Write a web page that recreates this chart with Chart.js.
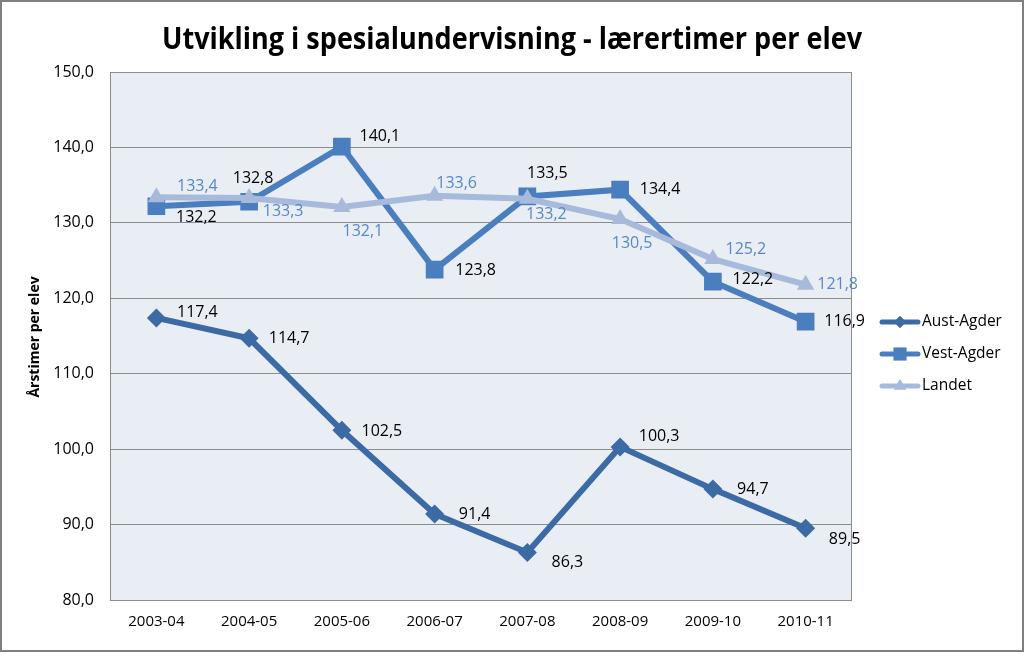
<!DOCTYPE html>
<html><head><meta charset="utf-8">
<script src="https://cdn.jsdelivr.net/npm/chart.js@4.4.0/dist/chart.umd.min.js"></script>
<style>html,body{margin:0;padding:0;background:#fff}#wrap{width:1024px;height:652px}</style>
</head><body><div id="wrap"><canvas id="c" width="1024" height="652"></canvas></div>
<script>
const categories = ['2003-04','2004-05','2005-06','2006-07','2007-08','2008-09','2009-10','2010-11'];
const austAgder = [117.4,114.7,102.5,91.4,86.3,100.3,94.7,89.5];
const vestAgder = [132.2,132.8,140.1,123.8,133.5,134.4,122.2,116.9];
const landet = [133.4,133.3,132.1,133.6,133.2,130.5,125.2,121.8];
const seriesNames = ['Aust-Agder','Vest-Agder','Landet'];
const yMin = 80, yMax = 150, yStep = 10;
const titleText = 'Utvikling i spesialundervisning - lærertimer per elev';
const yTitleText = 'Årstimer per elev';

// label offsets (label centre relative to point), per series
const offAA = [[41,-5],[40,0],[40,1],[40,0],[40,10],[39,-10],[40,0],[39,11]];
const offVA = [[40,11],[4,-23],[38,-10],[41,1],[20,-23],[40,0],[40,-2],[39,0]];
const offLA = [[41,-11],[34,13],[21,24],[22,-12],[19,16],[12,24],[33,-10],[32,0]];

const C_AA = '#3c6aa5', C_VA = '#4a7ebf', C_LA = '#a7badb', C_LBL = '#5a88c4';
const fmt = v => v.toFixed(1).replace('.', ',');
const FONT = "'Open Sans', 'Noto Sans', sans-serif";

const bgPlugin = {
  id: 'bg',
  beforeDraw(chart) {
    const {ctx, chartArea: a} = chart;
    ctx.save();
    ctx.fillStyle = '#fff';
    ctx.fillRect(0,0,chart.width,chart.height);
    ctx.fillStyle = '#e9edf4';
    ctx.fillRect(a.left, a.top, a.right-a.left, a.bottom-a.top);
    ctx.restore();
  },
  afterDraw(chart) {
    const {ctx, chartArea: a} = chart;
    ctx.save();
    ctx.strokeStyle = '#8c8c8c'; ctx.lineWidth = 1;
    ctx.strokeRect(a.left+0.5, a.top+0.5, a.right-a.left-1, a.bottom-a.top);
    // outer border
    ctx.strokeStyle = '#7f7f7f'; ctx.lineWidth = 2;
    ctx.strokeRect(1, 1, chart.width-2, chart.height-2);
    // title
    ctx.fillStyle = '#000';
    ctx.font = "bold 30px " + FONT;
    ctx.textBaseline = 'middle'; ctx.textAlign = 'center';
    const w = ctx.measureText(titleText).width, target = 700;
    ctx.save(); ctx.translate(512, 40); ctx.scale(Math.min(1, target/w), 1);
    ctx.fillText(titleText, 0, 0); ctx.restore();
    // y title
    ctx.font = "bold 14px " + FONT;
    const tw = ctx.measureText(yTitleText).width;
    ctx.save(); ctx.translate(35, 337); ctx.rotate(-Math.PI/2);
    ctx.scale(Math.min(1, 130/tw), 1);
    ctx.fillText(yTitleText, 0, 0); ctx.restore();
    // data labels
    const offs = [offAA, offVA, offLA];
    const cols = ['#000','#000',C_LBL];
    ctx.font = "16px " + FONT;
    chart.data.datasets.forEach((ds, di) => {
      const meta = chart.getDatasetMeta(di);
      ctx.fillStyle = cols[di];
      meta.data.forEach((pt, i) => {
        ctx.fillText(fmt(ds.data[i]), pt.x + offs[di][i][0], pt.y + offs[di][i][1]);
      });
    });
    // legend
    const lg = [[C_AA,'rectRot',6,5],[C_VA,'rect',9,5],[C_LA,'triangle',7,5]];
    ctx.textAlign = 'left';
    lg.forEach((l, i) => {
      const y = 322 + i*32;
      ctx.strokeStyle = l[0]; ctx.lineWidth = l[3]; ctx.lineCap = 'round';
      ctx.beginPath(); ctx.moveTo(882, y); ctx.lineTo(918, y); ctx.stroke();
      ctx.fillStyle = l[0];
      Chart.helpers.drawPoint(ctx, {pointStyle: l[1], radius: l[2], borderWidth: 0}, 900, y);
      ctx.fill();
      ctx.fillStyle = '#000';
      ctx.font = "15.5px " + FONT;
      ctx.fillText(seriesNames[i], 922, y);
    });
    ctx.restore();
  }
};

new Chart(document.getElementById('c'), {
  type: 'line',
  data: {
    labels: categories,
    datasets: [
      {label: seriesNames[0], data: austAgder, borderColor: C_AA, backgroundColor: C_AA, borderWidth: 6, pointStyle: 'rectRot', pointRadius: 9.5, pointHoverRadius: 9.5, pointBorderWidth: 0, order: 1},
      {label: seriesNames[1], data: vestAgder, borderColor: C_VA, backgroundColor: C_VA, borderWidth: 6, pointStyle: 'rect', pointRadius: 12.5, pointHoverRadius: 12.5, pointBorderWidth: 0, order: 2},
      {label: seriesNames[2], data: landet, borderColor: C_LA, backgroundColor: C_LA, borderWidth: 6, pointStyle: 'triangle', pointRadius: 10, pointHoverRadius: 10, pointBorderWidth: 0, order: 0}
    ]
  },
  options: {
    responsive: false, animation: false,
    layout: {padding: {left: 0, right: 172, top: 72, bottom: 0}},
    plugins: {legend: {display: false}, title: {display: false}, tooltip: {enabled: false}},
    elements: {line: {tension: 0}},
    scales: {
      x: {
        offset: true,
        grid: {display: false, drawTicks: false},
        border: {display: false},
        ticks: {color: '#000', font: {family: FONT, size: 15}, padding: 13, maxRotation: 0},
        afterFit(s) { s.height = 52; }
      },
      y: {
        min: yMin, max: yMax,
        grid: {color: '#8c8c8c', drawTicks: false},
        border: {display: false},
        ticks: {stepSize: yStep, color: '#000', font: {family: FONT, size: 16}, padding: 16, callback: v => fmt(v)},
        afterFit(s) { s.width = 110; }
      }
    }
  },
  plugins: [bgPlugin]
});
</script></body></html>
